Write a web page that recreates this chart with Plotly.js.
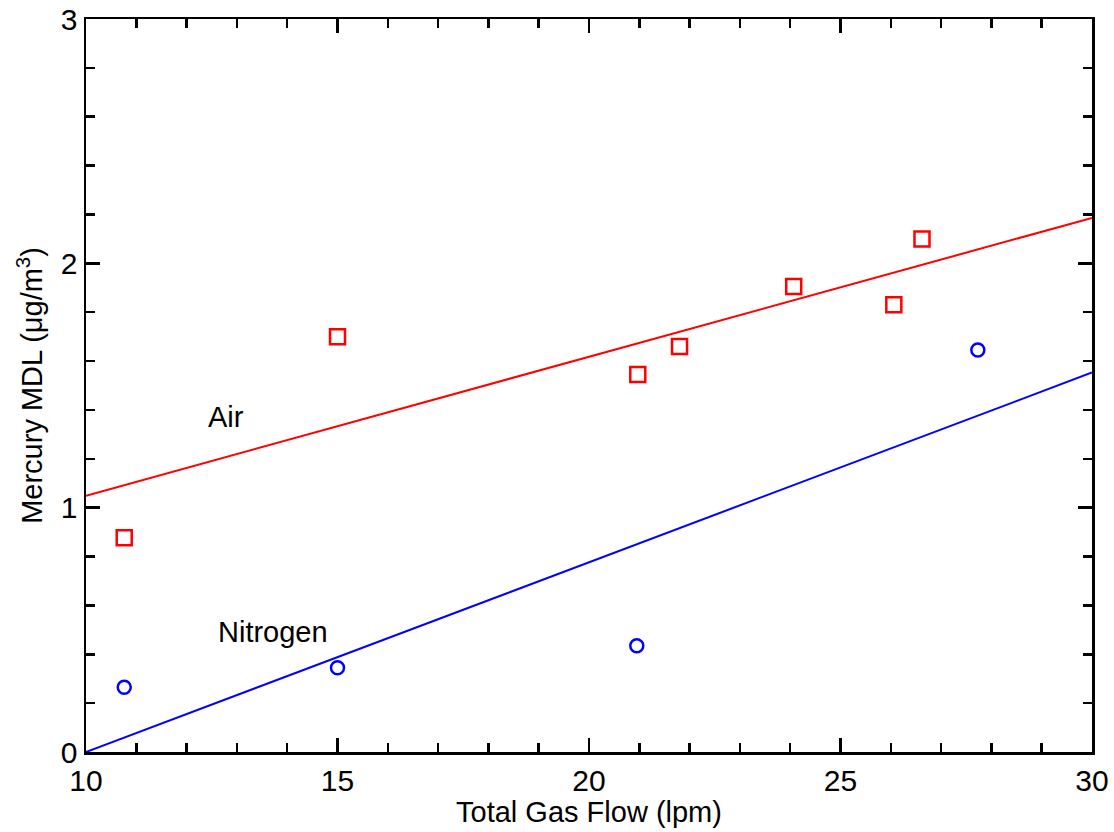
<!DOCTYPE html>
<html>
<head>
<meta charset="utf-8">
<script src="https://cdn.plot.ly/plotly-3.0.1.min.js"></script>
<style>html,body{margin:0;padding:0;background:#fff;}#chart{width:1114px;height:832px;}</style>
</head>
<body>
<div id="chart"></div>
<script>
// Data
var airFlow = [10.76, 15.0, 20.97, 21.8, 24.07, 26.06, 26.62];
var airMDL = [0.877, 1.70, 1.545, 1.66, 1.905, 1.83, 2.10];
var n2Flow = [10.76, 15.0, 20.95, 27.73];
var n2MDL = [0.265, 0.345, 0.435, 1.645];
var fitFlow = [10, 30];
var airFit = [1.049, 2.186];
var n2Fit = [0.0, 1.553];
var xTickVals = [10, 15, 20, 25, 30];
var yTickVals = [0, 1, 2, 3];
var labelText = ["Air", "Nitrogen"];
var labelX = [12.78, 13.72];
var labelY = [1.37, 0.49];

var red = '#ff0000', blue = '#0000ff';
var FONT = 'Liberation Sans, Arial, sans-serif';
var traces = [
  {x: fitFlow, y: airFit, mode: 'lines', line: {color: red, width: 2}, hoverinfo: 'skip'},
  {x: fitFlow, y: n2Fit, mode: 'lines', line: {color: blue, width: 2}, hoverinfo: 'skip'},
  {x: airFlow, y: airMDL, mode: 'markers', marker: {symbol: 'square-open', size: 15, color: red, line: {width: 2.5, color: red}}},
  {x: n2Flow, y: n2MDL, mode: 'markers', marker: {symbol: 'circle-open', size: 13, color: blue, line: {width: 2.5, color: blue}}}
];

var annotations = labelText.map(function (t, i) {
  return {x: labelX[i], y: labelY[i], xref: 'x', yref: 'y', text: t, showarrow: false,
    font: {family: FONT, size: 29, color: '#000'}};
});

var axisCommon = {
  showgrid: false, zeroline: false, showline: true, linecolor: '#000', linewidth: 2.5,
  mirror: 'ticks', ticks: 'inside', ticklen: 14, tickwidth: 2.5, tickcolor: '#000',
  tickfont: {family: FONT, size: 30, color: '#000'}
};

var layout = {
  width: 1114, height: 832,
  margin: {l: 86, r: 22, t: 19, b: 80},
  paper_bgcolor: '#fff', plot_bgcolor: '#fff',
  showlegend: false,
  font: {family: FONT, color: '#000'},
  xaxis: Object.assign({}, axisCommon, {
    range: [10, 30], tickmode: 'array', tickvals: xTickVals,
    minor: {dtick: 1, ticks: 'inside', ticklen: 9, tickwidth: 2.5, tickcolor: '#000', showgrid: false},
    title: {text: 'Total Gas Flow (lpm)', font: {size: 29, family: FONT}, standoff: 4}
  }),
  yaxis: Object.assign({}, axisCommon, {
    range: [0, 3], tickmode: 'array', tickvals: yTickVals,
    minor: {dtick: 0.2, ticks: 'inside', ticklen: 9, tickwidth: 2.5, tickcolor: '#000', showgrid: false},
    title: {text: 'Mercury MDL (\u03bcg/m<sup>3</sup>)', font: {size: 29, family: FONT}, standoff: 10}
  }),
  annotations: annotations
};

Plotly.newPlot('chart', traces, layout, {staticPlot: true});
</script>
</body>
</html>
